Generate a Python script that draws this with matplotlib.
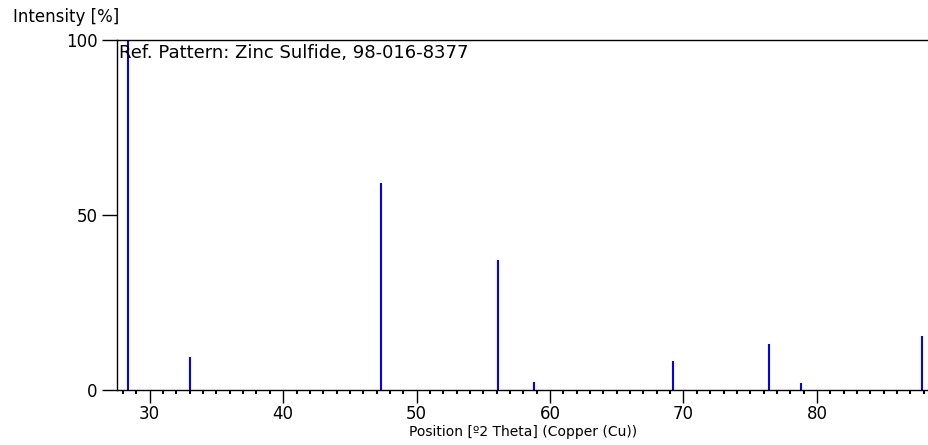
import matplotlib
matplotlib.use("Agg")
import matplotlib.pyplot as plt
from matplotlib.ticker import MultipleLocator

# Reference stick pattern: Zinc Sulfide
positions = [28.4, 33.0, 47.3, 56.1, 58.8, 69.2, 76.4, 78.8, 87.9]
intensities = [100, 9.4, 59.1, 37.1, 2.3, 8.3, 13.1, 2.0, 15.5]
x_ticks = [30, 40, 50, 60, 70, 80]
y_ticks = [0, 50, 100]

plt.rcParams['font.family'] = ['DejaVu Sans']

fig = plt.figure(figsize=(9.29, 4.45), dpi=100)
ax = fig.add_axes([0.126, 0.1236, 0.874, 0.7866])

ax.vlines(positions, 0, intensities, colors='#0000ff', linewidth=1.5)

ax.set_xlim(27.55, 88.4)
ax.set_ylim(0, 100)
ax.set_xticks(x_ticks)
ax.set_yticks(y_ticks)
ax.xaxis.set_minor_locator(MultipleLocator(1))

ax.tick_params(axis='x', which='major', direction='out', length=9, width=1,
               labelsize=12, color='black', pad=2)
ax.tick_params(axis='y', which='major', direction='out', length=11, width=1,
               labelsize=12, color='black', pad=3)
ax.tick_params(axis='x', which='minor', direction='out', length=3, width=1.5)
ax.spines['right'].set_visible(False)
for s in ['left', 'top', 'bottom']:
    ax.spines[s].set_linewidth(1)

ax.set_xlabel('Position [º2 Theta] (Copper (Cu))', fontsize=10, labelpad=1)
fig.text(0.014, 0.962, 'Intensity [%]', fontsize=12, ha='left', va='center')
ax.text(0.003, 0.963, 'Ref. Pattern: Zinc Sulfide, 98-016-8377', transform=ax.transAxes,
        fontsize=13, ha='left', va='center')

fig.savefig('out.png', dpi=100)
